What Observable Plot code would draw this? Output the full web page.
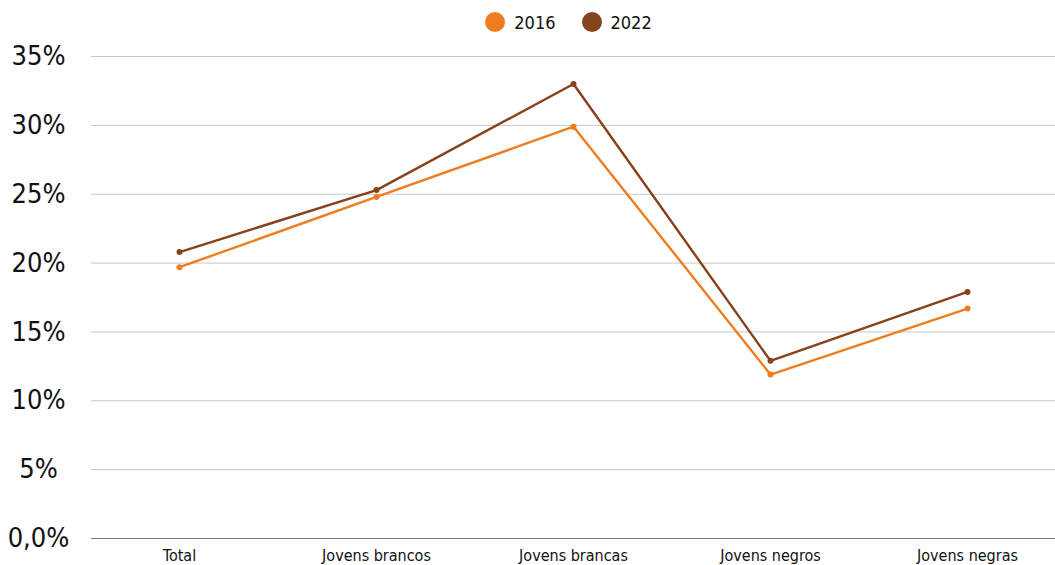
<!DOCTYPE html>
<html>
<head>
<meta charset="utf-8">
<script src="https://cdn.jsdelivr.net/npm/d3@7"></script>
<script src="https://cdn.jsdelivr.net/npm/@observablehq/plot@0.6"></script>
<style>
  html, body { margin: 0; padding: 0; background: #fff; }
  body { width: 1055px; height: 565px; overflow: hidden; font-family: "DejaVu Sans Condensed", sans-serif; }
  #legend { height: 40px; display: flex; justify-content: center; align-items: center; font-size: 18px; color: #111; padding-left: 82px; padding-top: 4px; box-sizing: border-box; }
  .item { display: flex; align-items: center; margin: 0 13px; }
  .sw { width: 20px; height: 20px; border-radius: 50%; margin-right: 9px; }
</style>
</head>
<body>
<div id="legend"></div>
<div id="chart"></div>
<script>
const categories = ["Total", "Jovens brancos", "Jovens brancas", "Jovens negros", "Jovens negras"];
const v2016 = [19.7, 24.8, 29.9, 11.9, 16.7];
const v2022 = [20.8, 25.3, 33.0, 12.9, 17.9];
const seriesNames = ["2016", "2022"];
const seriesColors = ["#EE7D1F", "#86421A"];
const yTicks = [0, 5, 10, 15, 20, 25, 30, 35];
const yTickLabels = ["0,0%", "5%", "10%", "15%", "20%", "25%", "30%", "35%"];

const data = [];
categories.forEach((c, i) => {
  data.push({category: c, value: v2016[i], series: seriesNames[0]});
  data.push({category: c, value: v2022[i], series: seriesNames[1]});
});

const legend = document.getElementById("legend");
seriesNames.forEach((s, i) => {
  const it = document.createElement("div");
  it.className = "item";
  it.innerHTML = `<span class="sw" style="background:${seriesColors[i]}"></span><span>${s}</span>`;
  legend.appendChild(it);
});

const font = "'DejaVu Sans Condensed', sans-serif";
const chart = Plot.plot({
  width: 1055,
  height: 525,
  marginLeft: 91,
  marginRight: 0,
  marginTop: 16,
  marginBottom: 27,
  style: {fontFamily: font, background: "#fff", color: "#111"},
  x: {type: "point", domain: categories, padding: 0.44},
  y: {domain: [0, 35]},
  color: {domain: seriesNames, range: seriesColors},
  marks: [
    Plot.gridY(yTicks.filter(t => t > 0), {stroke: "#c8c8c8", strokeOpacity: 1, strokeWidth: 1}),
    Plot.ruleY([0], {stroke: "#777", strokeWidth: 1.2}),
    Plot.axisY(yTicks, {
      tickSize: 0, tickPadding: 53, textAnchor: "middle",
      tickFormat: d => yTickLabels[yTicks.indexOf(d)],
      fontSize: 27, label: null, fill: "#111"
    }),
    Plot.axisX({tickSize: 0, tickPadding: 11, fontSize: 16, label: null, fill: "#111"}),
    Plot.line(data, {x: "category", y: "value", stroke: "series", strokeWidth: 2.4, z: "series"}),
    Plot.dot(data, {x: "category", y: "value", fill: "series", r: 3})
  ]
});
document.getElementById("chart").appendChild(chart);
</script>
</body>
</html>
